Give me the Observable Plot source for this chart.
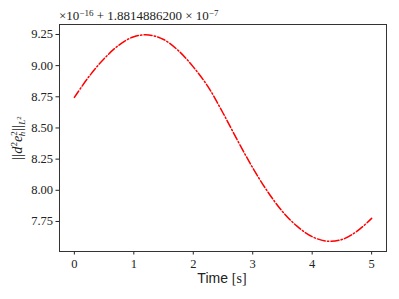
<!DOCTYPE html>
<html><head><meta charset="utf-8">
<script src="https://cdn.jsdelivr.net/npm/d3@7"></script>
<script src="https://cdn.jsdelivr.net/npm/@observablehq/plot@0.6"></script>
<style>body{margin:0;background:#fff;}</style>
</head><body><div id="chart"></div>
<script>
const times  = [0, 0.25, 0.5, 0.75, 1.0, 1.25, 1.5, 1.75, 2.0, 2.25, 2.5, 2.75, 3.0, 3.25, 3.5, 3.75, 4.0, 4.25, 4.5, 4.75, 5.0];
const values = [8.745, 8.915, 9.055, 9.165, 9.232, 9.246, 9.21, 9.12, 8.99, 8.83, 8.62, 8.395, 8.18, 7.99, 7.83, 7.71, 7.628, 7.592, 7.605, 7.67, 7.775];
const xTicks = [0, 1, 2, 3, 4, 5];
const yTicks = [7.75, 8.00, 8.25, 8.50, 8.75, 9.00, 9.25];
const data = times.map((t, i) => ({t, v: values[i]}));

const serif = "Liberation Serif";
const chart = Plot.plot({
  width: 399, height: 299,
  marginLeft: 59, marginRight: 13, marginTop: 24, marginBottom: 48,
  style: {fontFamily: serif, fontSize: "12px", color: "#222", background: "#fff"},
  x: {domain: [-0.25, 5.25], ticks: xTicks, tickSize: 3.5, tickPadding: 4, label: null, tickFormat: d3.format("d")},
  y: {domain: [7.509, 9.33], ticks: yTicks, tickSize: 3.5, tickPadding: 3, label: null, tickFormat: d3.format(".2f")},
  marks: [
    Plot.line(data, {x: "t", y: "v", stroke: "red", strokeWidth: 1.5, strokeDasharray: "8,2.2,1.4,2.2", curve: "catmull-rom"}),
    Plot.frame({stroke: "#333", strokeWidth: 1})
  ]
});
document.getElementById("chart").appendChild(chart);

const svg = d3.select(chart);
svg.selectAll("text").attr("font-family", serif).style("font-family", serif).style("font-size", "12.5px");
// x label
const xl = svg.append("text").attr("x", 222).attr("y", 283).attr("text-anchor", "middle")
  .attr("fill", "#222").style("font-size", "14px");
xl.append("tspan").style("font-family", "Liberation Sans").text("Time ");
xl.append("tspan").style("font-family", serif).text("[s]");

// y label
const yl = svg.append("text").attr("transform", "translate(22,138) rotate(-90)")
  .attr("text-anchor", "middle").attr("fill", "#222")
  .style("font-family", serif).style("font-size", "14.5px");
yl.append("tspan").text("||");
yl.append("tspan").style("font-style", "italic").text("d");
yl.append("tspan").attr("dy", -5).style("font-size", "9px").text("2");
yl.append("tspan").attr("dy", 5).style("font-style", "italic").text("e");
yl.append("tspan").attr("dy", -5).style("font-size", "9px").text("2");
yl.append("tspan").attr("dx", -5).attr("dy", 8).style("font-size", "9px").style("font-style", "italic").text("h");
yl.append("tspan").attr("dx", 1).attr("dy", -3).text("||");
yl.append("tspan").attr("dy", 3).style("font-size", "9px").style("font-style", "italic").text("L");
yl.append("tspan").attr("dy", -4).style("font-size", "7px").text("2");

// offset text
const ot = svg.append("text").attr("x", 59).attr("y", 20).attr("fill", "#222")
  .attr("text-anchor", "start").style("font-family", serif).style("font-size", "13px");
ot.append("tspan").text("×10");
ot.append("tspan").attr("dy", -4.5).style("font-size", "9px").text("−16");
ot.append("tspan").attr("dy", 4.5).text(" + 1.8814886200 × 10");
ot.append("tspan").attr("dy", -4.5).style("font-size", "9px").text("−7");
</script>
</body></html>
